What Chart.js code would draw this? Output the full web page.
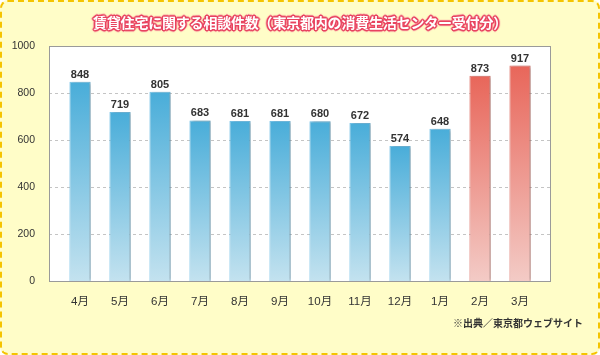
<!DOCTYPE html>
<html><head><meta charset="utf-8">
<script src="https://cdn.jsdelivr.net/npm/chart.js@4.4.1/dist/chart.umd.min.js"></script>
<style>
html,body{margin:0;padding:0;background:#fff;}
body{position:relative;width:600px;height:355px;overflow:hidden;}
#bg{position:absolute;left:0;top:0;width:600px;height:355px;box-sizing:border-box;border:2px dashed #F5C400;border-radius:8px;background:#FFFDC8;}
#c{position:absolute;left:0;top:0;}
#title{position:absolute;left:0;top:15px;width:600px;text-align:center;font:bold 14px/14px "Noto Sans CJK JP",sans-serif;color:#fff;letter-spacing:-0.2px;
text-shadow:1px 0 0 #E8435F,-1px 0 0 #E8435F,0 1px 0 #E8435F,0 -1px 0 #E8435F,1px 1px 0 #E8435F,-1px -1px 0 #E8435F,1px -1px 0 #E8435F,-1px 1px 0 #E8435F,2px 0 1px #F06A80,-2px 0 1px #F06A80,0 2px 1px #F06A80,0 -2px 1px #F06A80,0 0 3px #F59AAA;}
#src{position:absolute;left:453px;top:317px;font:bold 10px/11px "Noto Sans CJK JP",sans-serif;color:#333;}
</style></head>
<body>
<div id="bg"></div>
<canvas id="c" width="600" height="355"></canvas>
<div id="title">賃貸住宅に関する相談件数（東京都内の消費生活センター受付分）</div>
<div id="src">※出典／東京都ウェブサイト</div>
<script>
const months = ["4月","5月","6月","7月","8月","9月","10月","11月","12月","1月","2月","3月"];
const counts = [848,719,805,683,681,681,680,672,574,648,873,917];
const highlighted = [false,false,false,false,false,false,false,false,false,false,true,true];
const yTicks = [0,200,400,600,800,1000];

const FONT = '"Liberation Sans","Noto Sans CJK JP",sans-serif';
const FRAME_L = 11, FRAME_R = 10;

function barFill(ctx){
  const chart = ctx.chart, y = chart.scales.y;
  if (!chart.chartArea || !y) return '#4AAED8';
  const top = y.getPixelForValue(ctx.raw), bot = y.getPixelForValue(0);
  const g = chart.ctx.createLinearGradient(0, top, 0, bot);
  if (highlighted[ctx.dataIndex]) { g.addColorStop(0,'#E8665A'); g.addColorStop(1,'#F3CBC6'); }
  else { g.addColorStop(0,'#49ADD9'); g.addColorStop(1,'#C3E2EF'); }
  return g;
}

const framePlugin = {
  id:'frame',
  beforeDatasetsDraw(chart){
    const {ctx, chartArea:a, scales:{y}} = chart;
    const L = a.left - FRAME_L, R = a.right + FRAME_R;
    ctx.save();
    ctx.fillStyle = '#fff';
    ctx.fillRect(L, a.top, R-L, a.bottom-a.top);
    ctx.strokeStyle = '#C4C4C4'; ctx.lineWidth = 1; ctx.setLineDash([3,3]);
    yTicks.forEach(v=>{
      if (v===0 || v===1000) return;
      const py = Math.round(y.getPixelForValue(v)) + 0.5;
      ctx.beginPath(); ctx.moveTo(L, py); ctx.lineTo(R, py); ctx.stroke();
    });
    ctx.setLineDash([]);
    ctx.strokeStyle = '#9A9A9A';
    ctx.strokeRect(Math.round(L)+0.5, Math.round(a.top)+0.5, Math.round(R-L), Math.round(a.bottom-a.top));
    ctx.restore();
    ctx.save();
    ctx.shadowColor = 'rgba(0,0,0,0.28)';
    ctx.shadowOffsetX = 3; ctx.shadowOffsetY = 0; ctx.shadowBlur = 3;
  },
  afterDatasetsDraw(chart){
    const ctx = chart.ctx;
    ctx.restore();
    const meta = chart.getDatasetMeta(0);
    ctx.save();
    ctx.font = 'bold 11px ' + FONT;
    ctx.fillStyle = '#333';
    ctx.textAlign = 'center'; ctx.textBaseline = 'alphabetic';
    meta.data.forEach((bar,i)=>{
      ctx.fillText(String(counts[i]), bar.x, bar.y - 4);
    });
    ctx.restore();
  }
};

new Chart(document.getElementById('c'), {
  type:'bar',
  data:{ labels: months, datasets:[{
    data: counts,
    backgroundColor: barFill,
    borderColor: counts.map((v,i)=> highlighted[i] ? '#E0776C' : '#74C2E8'),
    borderWidth: 1,
    barPercentage: 0.53,
    categoryPercentage: 1
  }]},
  options:{
    responsive:false, animation:false, devicePixelRatio:1,
    layout:{ padding:{ top:46, right:60, left:0, bottom:0 } },
    plugins:{ legend:{display:false}, tooltip:{enabled:false}, title:{display:false} },
    scales:{
      y:{ min:0, max:1000,
        afterBuildTicks(s){ s.ticks = yTicks.map(v=>({value:v})); },
        afterFit(s){ s.width = 60; },
        grid:{display:false}, border:{display:false},
        ticks:{ color:'#333', padding:17, font:{family:FONT, size:10.5}, callback:(v)=>String(v) } },
      x:{ afterFit(s){ s.height = 74; },
        grid:{display:false}, border:{display:false},
        ticks:{ color:'#333', padding:6, font:{family:FONT, size:11.5}, maxRotation:0, autoSkip:false } }
    }
  },
  plugins:[framePlugin]
});
</script>
</body></html>
